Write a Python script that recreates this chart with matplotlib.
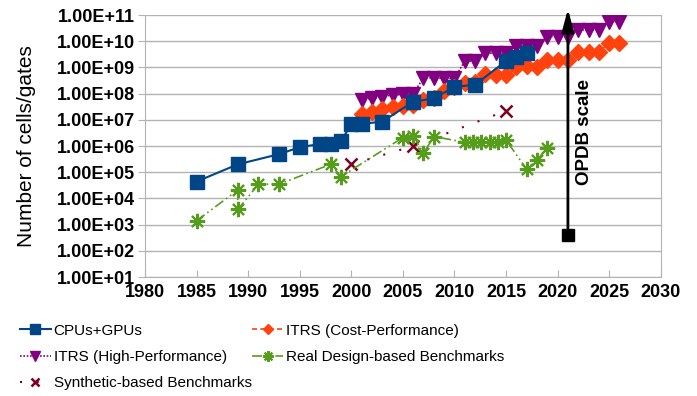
import matplotlib.pyplot as plt

plt.rcParams['font.family'] = ['Liberation Sans', 'DejaVu Sans']

# processors
cpu_years = [1985, 1989, 1993, 1995, 1997, 1998, 1999, 2000, 2001, 2003, 2006,
             2008, 2010, 2012, 2015, 2016, 2017]
cpu_cells = [4.4e4, 2.0e5, 4.9e5, 9.0e5, 1.2e6, 1.2e6, 1.5e6, 7.0e6, 7.0e6, 8.5e6,
             4.9e7, 6.6e7, 1.8e8, 2.2e8, 1.75e9, 2.4e9, 3.5e9]

# ITRS roadmap
itrs_years = list(range(2001, 2027))
itrs_cp = [1.6e7, 2.0e7, 2.5e7, 3.2e7, 3.5e7, 3.8e7, 5.6e7, 7.1e7, 1.26e8, 1.8e8,
           2.5e8, 2.8e8, 5.6e8, 5.0e8, 5.0e8, 1.0e9, 1.1e9, 1.0e9, 2.0e9, 2.0e9,
           2.0e9, 4.0e9, 4.0e9, 4.0e9, 8.5e9, 8.5e9]
itrs_hp = [5.8e7, 6.6e7, 7.6e7, 8.9e7, 9.3e7, 1.0e8, 4.0e8, 4.0e8, 3.8e8, 3.8e8,
           1.75e9, 1.75e9, 3.5e9, 3.5e9, 3.5e9, 6.8e9, 6.8e9, 6.8e9, 1.5e10, 1.5e10,
           1.5e10, 2.7e10, 2.7e10, 2.7e10, 5.6e10, 5.6e10]

# benchmarks
real_years = [1985, 1989, 1989, 1991, 1993, 1998, 1999, 2005, 2006, 2007, 2008,
              2011, 2011.8, 2012.6, 2013.4, 2014.2, 2015, 2017, 2018, 2019]
real_cells = [1.4e3, 2.1e4, 3.8e3, 3.5e4, 3.5e4, 2.0e5, 6.8e4, 2.1e6, 2.5e6, 5.3e5,
              2.3e6, 1.4e6, 1.4e6, 1.4e6, 1.4e6, 1.4e6, 1.7e6, 1.3e5, 2.9e5, 8.7e5]
synth_years = [2000, 2006, 2015]
synth_cells = [2.0e5, 1.0e6, 2.2e7]

opdb_year = 2021
opdb_range = [4.0e2, 1.7e11]

fig = plt.figure(figsize=(6.97, 3.96), dpi=100)
ax = fig.add_axes([0.208, 0.3005, 0.740, 0.6615])

ax.plot(cpu_years, cpu_cells, color='#004586', lw=1.5, marker='s', ms=9.5,
        label='CPUs+GPUs', zorder=5)
ax.plot(itrs_years, itrs_hp, color='#800080', lw=1.2, ls=(0, (1, 1)), marker='v',
        ms=10, label='ITRS (High-Performance)', zorder=3)
ax.plot(synth_years, synth_cells, color='#7e0021', lw=1.5, ls=(0, (1, 7)), marker='x',
        ms=9, mew=1.8, label='Synthetic-based Benchmarks', zorder=4)
ax.plot(itrs_years, itrs_cp, color='#ff420e', lw=1.2, ls=(0, (3, 2)), marker='D',
        ms=8, label='ITRS (Cost-Performance)', zorder=4)
ax.plot(real_years, real_cells, color='#579d1c', lw=1.2, ls=(0, (6, 2, 1, 2, 1, 2)),
        marker=(8, 2, 0), ms=11, mew=1.5, label='Real Design-based Benchmarks', zorder=4)

# OPDB scale arrow
ax.annotate('', xy=(opdb_year, opdb_range[1]), xytext=(opdb_year, opdb_range[0]),
            arrowprops=dict(arrowstyle='-|>,head_length=0.75,head_width=0.2',
                            color='black', lw=2, mutation_scale=18,
                            shrinkA=0, shrinkB=0),
            annotation_clip=False, zorder=6)
ax.plot([opdb_year], [opdb_range[0]], marker='s', color='black', ms=8, zorder=6)
ax.text(opdb_year + 1.6, 3.4e6, 'OPDB scale', rotation=90, fontsize=13.5,
        fontweight='bold', ha='center', va='center')

ax.set_yscale('log')
ax.set_ylim(1e1, 1e11)
ax.set_xlim(1980, 2030)
ax.set_xticks(range(1980, 2031, 5))
ax.set_yticks([10.0 ** k for k in range(1, 12)])
ax.minorticks_off()
ax.set_yticklabels(['1.00E+%02d' % k for k in range(1, 12)])
ax.tick_params(axis='both', labelsize=13, colors='#b3b3b3', labelcolor='black')
ax.tick_params(axis='x', direction='in', length=5, pad=5)
ax.tick_params(axis='y', direction='out', length=5, pad=2)
for lab in ax.get_xticklabels() + ax.get_yticklabels():
    lab.set_fontweight('bold')

ax.grid(axis='y', color='#b3b3b3', lw=1)
for s in ax.spines.values():
    s.set_color('#b3b3b3')
ax.spines['top'].set_visible(False)
ax.set_ylabel('Number of cells/gates', fontsize=15, labelpad=15)

h, l = ax.get_legend_handles_labels()
fig.legend(h, l, loc='upper left', bbox_to_anchor=(0.02, 0.198), ncol=2, frameon=False,
           fontsize=11, handlelength=2.0, handletextpad=0.2, columnspacing=0.05,
           labelspacing=0.8, borderaxespad=0, markerscale=0.7)

fig.savefig('out.png', dpi=100)
